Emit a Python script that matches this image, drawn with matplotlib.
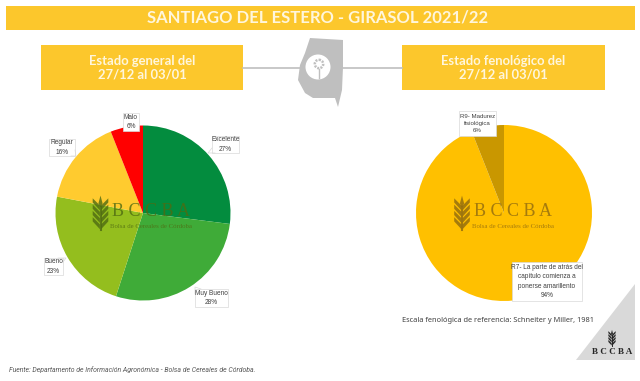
import matplotlib
matplotlib.use('Agg')
import matplotlib.pyplot as plt
from matplotlib.patches import Rectangle, Polygon, Circle

# general condition
estado_labels = ['Excelente\n27%', 'Muy Bueno\n28%', 'Bueno\n23%', 'Regular\n16%', 'Malo\n6%']
estado_values = [27, 28, 23, 16, 6]
estado_colors = ['#038C3E', '#3FAB38', '#94BE1E', '#FFCB2F', '#FF0000']

# phenological stage
feno_labels = ['R7- La parte de atrás del\ncapítulo comienza a\nponerse amarillento\n94%', 'R9- Madurez\nfisiológica\n6%']
feno_values = [94, 6]
feno_colors = ['#FFC000', '#C99700']

W, H = 640, 381
YELLOW = '#FCC72C'
SANS = ['Noto Sans', 'DejaVu Sans']
HEAD = ['Lato', 'DejaVu Sans']

fig = plt.figure(figsize=(W / 100, H / 100), dpi=100)
bg = fig.add_axes([0, 0, 1, 1])
bg.set_xlim(0, W)
bg.set_ylim(H, 0)
bg.axis('off')


def draw_pie(cx, cy, r, values, colors):
  ax = fig.add_axes([(cx - r) / W, 1 - (cy + r) / H, 2 * r / W, 2 * r / H])
  ax.pie(values, colors=colors, startangle=90, counterclock=False, radius=1)
  ax.set_xlim(-1, 1)
  ax.set_ylim(-1, 1)
  ax.axis('off')


def sheaf(ax, x, y, s, color, alpha):
  # wheat logo: thin stem, top leaf and slanted leaf pairs
  ax.add_patch(Polygon([(x, y - 2.9 * s), (x + .35 * s, y - 1.6 * s), (x, y - .9 * s), (x - .35 * s, y - 1.6 * s)],
                       fc=color, alpha=alpha, ec='none', zorder=6))
  ax.plot([x, x], [y - s, y + 2.9 * s], color=color, alpha=alpha, lw=0.25 * s, zorder=6)
  for k in range(4):
    yy = y - 1.7 * s + k * 1.05 * s
    for d in (-1, 1):
      ax.add_patch(Polygon([(x + d * .1 * s, yy + 1.25 * s), (x + d * 1.3 * s, yy - .05 * s), (x + d * 1.3 * s, yy - .75 * s),
                            (x + d * .1 * s, yy + .45 * s)], fc=color, alpha=alpha, ec='none', zorder=6))


def watermark(ax, x, color):
  sheaf(ax, x, 213, 6, color, 0.8)
  ax.text(x + 51, 212, 'B C C B A', family='Liberation Serif', fontsize=13, color=color, alpha=0.8,
          ha='center', va='center', zorder=6)
  ax.text(x + 51, 226.5, 'Bolsa de Cereales de Córdoba', family='Liberation Serif', fontsize=4.9, color=color,
          alpha=0.8, ha='center', va='center', zorder=6)


def label(ax, x, y, w, h, text, fontsize=4.7, tail=None):
  ax.add_patch(Rectangle((x, y), w, h, fc='white', ec='#D9D9D9', lw=0.5, zorder=7))
  if tail:
    ax.plot(tail[0], tail[1], color='#D9D9D9', lw=0.5, zorder=7)
  ax.text(x + w / 2, y + h / 2, text, fontsize=fontsize, family='Liberation Sans', color='#404040', ha='center',
          va='center', linespacing=1.45, zorder=8)


# banners
bg.add_patch(Rectangle((6, 6), 629, 24, fc=YELLOW, ec='none'))
bg.text(317.5, 17.5, 'SANTIAGO DEL ESTERO - GIRASOL 2021/22', family=HEAD, weight='bold', fontsize=12,
        color='#FFF6DC', ha='center', va='center')
for x0, x1, title in [(41, 243, 'Estado general del\n27/12 al 03/01'), (402, 605, 'Estado fenológico del\n27/12 al 03/01')]:
  bg.add_patch(Rectangle((x0, 45), x1 - x0, 45, fc=YELLOW, ec='none'))
  bg.text((x0 + x1) / 2, 68, title, family=HEAD, weight='bold', fontsize=9.4, color='#FFF6DC', ha='center',
          va='center', linespacing=1.15)

# province map with sunflower
bg.plot([243, 304], [68, 68], color='#BFBFBF', lw=1.2)
bg.plot([343, 402], [68, 68], color='#BFBFBF', lw=1.2)
bg.add_patch(Polygon([(310, 38), (343, 40), (343, 67), (342, 90), (338, 107), (335, 98), (327, 98), (313, 98),
                      (305, 93), (298, 80), (300, 65), (305, 53)], fc='#BFBFBF', ec='none'))
bg.add_patch(Circle((318, 67), 12.5, fc='white', ec='none'))
bg.add_patch(Circle((319, 64), 4.2, fc='none', ec='#BFBFBF', lw=1.8, ls=(0, (0.8, 0.5))))
bg.plot([319, 319], [69, 78], color='#BFBFBF', lw=1)

draw_pie(143, 213, 87.5, estado_values, estado_colors)
draw_pie(504, 213, 88, feno_values, feno_colors)

top = fig.add_axes([0, 0, 1, 1], facecolor='none')
top.set_xlim(0, W)
top.set_ylim(H, 0)
top.axis('off')

watermark(top, 100.5, '#4F6B12')
watermark(top, 462, '#8F6A10')

label(top, 212, 136, 27, 17, estado_labels[0], tail=([212, 208, 215], [148, 153, 153]))
label(top, 195, 289, 33, 18, estado_labels[1], tail=([195, 195, 201], [294, 287, 289]))
label(top, 44, 258, 19, 17, estado_labels[2], tail=([63, 66, 58], [262, 258, 258]))
label(top, 49, 139, 26, 17, estado_labels[3], tail=([75, 76, 71], [150, 156, 156]))
label(top, 123, 113, 16, 18, estado_labels[4])
label(top, 459, 111, 37, 25, feno_labels[1], 4.4)
label(top, 512, 262, 70, 39, feno_labels[0], 4.7)

top.text(401.5, 320.5, 'Escala fenológica de referencia: Schneiter y Miller, 1981', family=SANS, fontsize=5.35,
         color='#404040', va='center', ha='left')
top.text(9, 370, 'Fuente: Departamento de Información Agronómica - Bolsa de Cereales de Córdoba.', family='Roboto',
         style='italic', fontsize=4.95, color='#595959', va='center', ha='left')

# corner logo
top.add_patch(Polygon([(576, 360), (635, 360), (635, 284)], fc='#D9D9D9', ec='none'))
sheaf(top, 612, 338, 2.8, '#262626', 1)
top.text(612, 352, 'B C C B A', family='Liberation Serif', weight='bold', fontsize=6.5, color='#262626',
         ha='center', va='center')

fig.savefig('out.png', dpi=100)
